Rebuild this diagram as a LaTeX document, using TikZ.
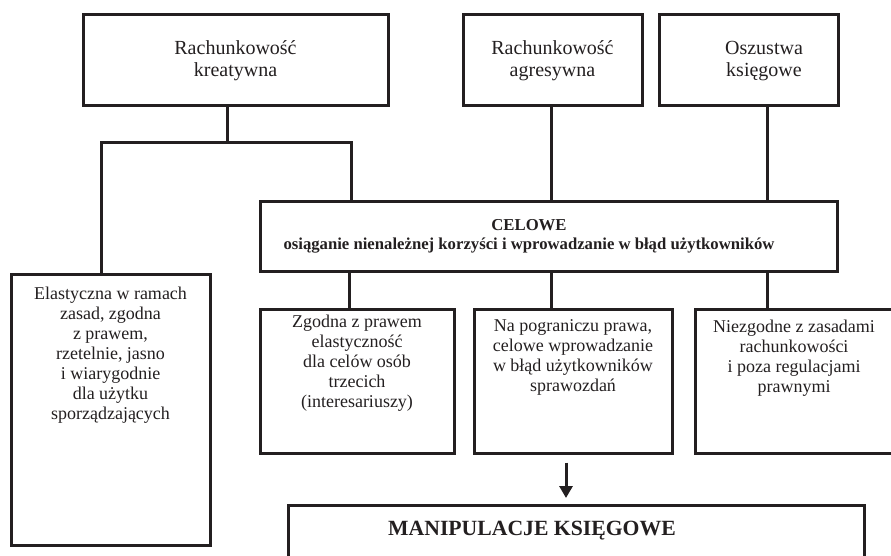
\documentclass[tikz,border=0pt]{standalone}
\usepackage{fontspec}
\setmainfont{Liberation Serif}
\usepackage{tikz}
\usetikzlibrary{arrows.meta}
\usetikzlibrary{positioning}
\definecolor{ink}{HTML}{231F20}
\tikzstyle{every node}+=[inner sep=0pt]
\tikzstyle{block} = [rectangle, draw=ink, line width=3pt, outer sep=0pt]
\tikzstyle{txt} = [text=ink, align=center, font=\fontsize{18}{20}\selectfont]
\tikzstyle{head} = [text=ink, align=center, font=\fontsize{20}{22}\selectfont]
\tikzstyle{line} = [draw=ink, line width=3pt]
\tikzstyle{arrow} = [draw=ink, line width=3pt, -{Triangle[width=13pt,length=12pt]}]

\begin{document}
\begin{tikzpicture}[x=1pt, y=-1pt]
            \useasboundingbox (0,0) rectangle (891,555);
            \clip (0,0) rectangle (891,555);
            % Place nodes
            \node [block, minimum width=305, minimum height=91] (kreat) at (235.5,59.5) {};
            \node [head] (kreattx) at (235.5,61) {Rachunkowość\\kreatywna};
            \node [block, minimum width=179, minimum height=91] (agres) at (552.5,59.5) {};
            \node [head] (agrestx) at (552.5,61) {Rachunkowość\\agresywna};
            \node [block, minimum width=179, minimum height=91] (oszust) at (748.5,59.5) {};
            \node [head] (oszusttx) at (764,61) {Oszustwa\\księgowe};
            \node [block, minimum width=577, minimum height=70] (celowe) at (548.5,236) {};
            \node [txt, font=\bfseries\fontsize{16.7}{19}\selectfont] (celowetx) at (529,236.5) {CELOWE\\osiąganie nienależnej korzyści i wprowadzanie w błąd użytkowników};
            \node [block, minimum width=199, minimum height=271] (elast) at (110.5,409.5) {};
            \node [txt, below=13pt of elast.north] (elasttx) {Elastyczna w ramach\\zasad, zgodna\\z prawem,\\rzetelnie, jasno\\i wiarygodnie\\dla użytku\\sporządzających};
            \node [block, minimum width=194, minimum height=144] (zgod) at (357,381.5) {};
            \node [txt, below=5pt of zgod.north] (zgodtx) {Zgodna z prawem\\elastyczność\\dla celów osób\\trzecich\\(interesariuszy)};
            \node [block, minimum width=198, minimum height=144] (pogr) at (573,381.5) {};
            \node [txt, below=10pt of pogr.north] (pogrtx) {Na pograniczu prawa,\\celowe wprowadzanie\\w błąd użytkowników\\sprawozdań};
            \node [block, minimum width=198, minimum height=144] (niezg) at (794,381.5) {};
            \node [txt, below=10pt of niezg.north] (niezgtx) {Niezgodne z zasadami\\rachunkowości\\i poza regulacjami\\prawnymi};
            \node [block, minimum width=576, minimum height=100] (manip) at (576,555) {};
            \node [txt, font=\bfseries\fontsize{21.7}{24}\selectfont, below=16pt of manip.north, xshift=-44pt] (maniptx) {MANIPULACJE KSIĘGOWE};
            \coordinate (split) at (227,142);
            \coordinate (lft) at (101,142);
            \coordinate (rgt) at (351,142);
            \coordinate (c1) at (349,0);
            \coordinate (c2) at (551,0);
            \coordinate (c3) at (767,0);
            \coordinate (c4) at (566,0);
            % Draw edges
            \path [line] (kreat.south -| split) -- (split);
            \path [line] (lft |- elast.north) -- (lft) -- (rgt) -- (rgt |- celowe.north);
            \path [line] (agres.south -| c2) -- (celowe.north -| c2);
            \path [line] (oszust.south -| c3) -- (celowe.north -| c3);
            \path [line] (celowe.south -| c1) -- (zgod.north -| c1);
            \path [line] (celowe.south -| c2) -- (pogr.north -| c2);
            \path [line] (celowe.south -| c3) -- (niezg.north -| c3);
            \path [arrow, shorten <=9pt, shorten >=7pt] (pogr.south -| c4) -- (manip.north -| c4);
          \end{tikzpicture}
\end{document}
